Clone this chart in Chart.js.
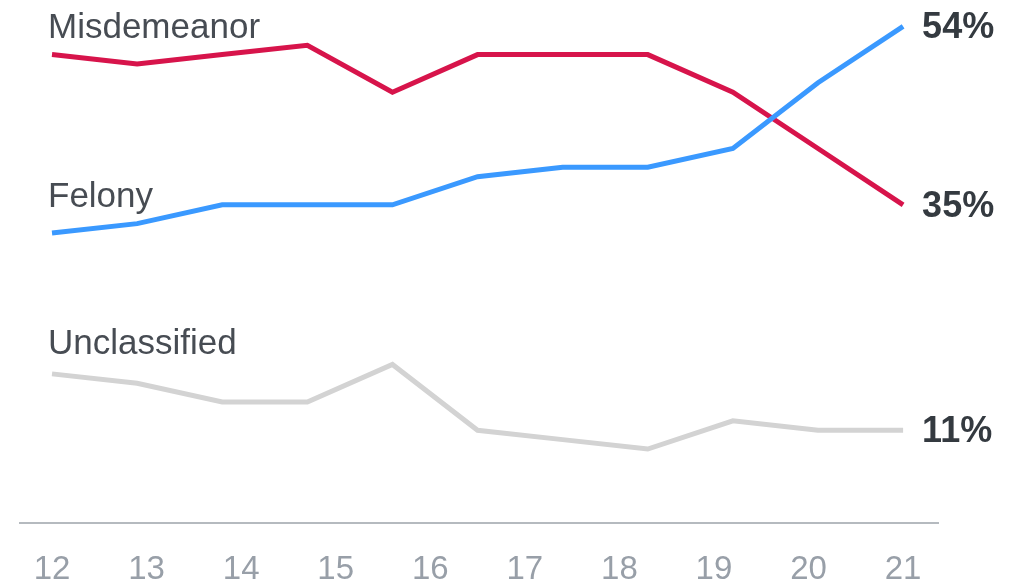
<!DOCTYPE html>
<html>
<head>
<meta charset="utf-8">
<script src="https://cdn.jsdelivr.net/npm/chart.js@4/dist/chart.umd.min.js"></script>
<style>
  html, body { margin: 0; padding: 0; background: #fff; }
  #wrap { width: 1020px; height: 587px; }
</style>
</head>
<body>
<div id="wrap"><canvas id="caseChart" width="1020" height="587"></canvas></div>
<script>
// one step per period, ticks 12..21 are spread across the same span
const periods = [0, 1, 2, 3, 4, 5, 6, 7, 8, 9, 10];
const tickLabels = ['12', '13', '14', '15', '16', '17', '18', '19', '20', '21'];

const seriesNames = ['Misdemeanor', 'Felony', 'Unclassified'];
const misdemeanor = [51, 50, 51, 52, 47, 51, 51, 51, 47, 41, 35];
const felony = [32, 33, 35, 35, 35, 38, 39, 39, 41, 48, 54];
const unclassified = [17, 16, 14, 14, 18, 11, 10, 9, 12, 11, 11];

const colors = ['#d7144b', '#3a99ff', '#d3d3d3'];
// how far each name sits above its first point (px)
const nameLift = [17, 26, 20];

/**
 * Pairs period with value.
 * @param {Array} values
 * @returns {Array}
 */
function toPoints(values) {
  return values.map((v, i) => ({ x: periods[i], y: v }));
}

/**
 * Writes series names and end values.
 */
const labelPlugin = {
  id: 'seriesLabels',
  afterDatasetsDraw(chart) {
    const ctx = chart.ctx;
    ctx.save();
    chart.data.datasets.forEach((ds, i) => {
      const pts = chart.getDatasetMeta(i).data;
      const first = pts[0];
      const last = pts[pts.length - 1];

      ctx.fillStyle = '#474c53';
      ctx.font = '35px "Liberation Sans", Arial, sans-serif';
      ctx.textAlign = 'left';
      ctx.textBaseline = 'alphabetic';
      ctx.fillText(ds.label, first.x - 4, first.y - nameLift[i]);

      const val = ds.data[ds.data.length - 1].y;
      ctx.fillStyle = '#343a40';
      ctx.font = 'bold 36px "Liberation Sans", Arial, sans-serif';
      ctx.textBaseline = 'middle';
      ctx.fillText(val + '%', last.x + 19, last.y + 2);
    });
    ctx.restore();
  }
};

function init() {
  const canvas = document.getElementById('caseChart');
  new Chart(canvas, {
    type: 'line',
    data: {
      datasets: [
        { label: seriesNames[0], data: toPoints(misdemeanor), borderColor: colors[0], order: 1 },
        { label: seriesNames[1], data: toPoints(felony), borderColor: colors[1], order: 0 },
        { label: seriesNames[2], data: toPoints(unclassified), borderColor: colors[2], order: 2 }
      ].map(d => Object.assign(d, {
        borderWidth: 5,
        pointRadius: 0,
        tension: 0,
        fill: false
      }))
    },
    options: {
      responsive: false,
      animation: false,
      layout: { padding: { left: 20, right: 82, top: 10, bottom: 1 } },
      plugins: {
        legend: { display: false },
        tooltip: { enabled: false }
      },
      scales: {
        x: {
          type: 'linear',
          min: -0.376,
          max: 10.41,
          grid: { display: false },
          border: { display: true, color: '#b5babf', width: 2 },
          afterBuildTicks: (scale) => {
            scale.ticks = tickLabels.map((t, i) => ({ value: i * 10 / 9 }));
          },
          afterFit: (scale) => {
            scale.height = 63;
          },
          ticks: {
            autoSkip: false,
            maxRotation: 0,
            padding: 22,
            color: '#989fa8',
            font: { family: '"Liberation Sans", Arial', size: 33, lineHeight: 1 },
            callback: (value, index) => tickLabels[index]
          }
        },
        y: {
          display: false,
          min: 1.12,
          max: 55.75
        }
      }
    },
    plugins: [labelPlugin]
  });
}

if (document.readyState === 'loading') {
  document.addEventListener('DOMContentLoaded', init);
} else {
  init();
}
</script>
</body>
</html>
